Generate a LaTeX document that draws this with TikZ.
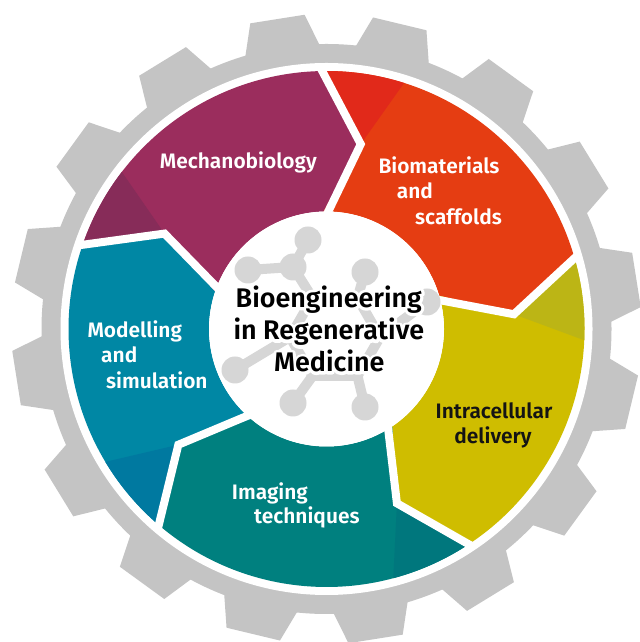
\documentclass[tikz,border=0pt]{standalone}
\usepackage{fontspec}
\setmainfont{Fira Sans}[BoldFont={Fira Sans SemiBold}]
\definecolor{gearGrey}{HTML}{C4C4C4}
\definecolor{magM}{HTML}{9B2D5D}
\definecolor{magD}{HTML}{872C59}
\definecolor{oraM}{HTML}{E53D12}
\definecolor{oraD}{HTML}{E1291A}
\definecolor{yelM}{HTML}{CFBD00}
\definecolor{yelD}{HTML}{BCB515}
\definecolor{tealM}{HTML}{00807F}
\definecolor{tealD}{HTML}{00777D}
\definecolor{blueM}{HTML}{0087A4}
\definecolor{blueD}{HTML}{0079A0}
\definecolor{molGrey}{HTML}{D6D6D6}
\definecolor{txtDark}{HTML}{141414}
\newcommand\halotext[1]{\makebox[0pt][l]{\special{pdf:literal direct 1 Tr 6 w 1 J 1 j 1 1 1 RG}#1\special{pdf:literal direct 0 Tr}}#1}
\begin{document}
\begin{tikzpicture}[x=1bp,y=1bp,
  seglabel/.style={font=\bfseries\fontsize{21}{25}\selectfont, text=white, inner sep=0pt},
  centerlabel/.style={font=\bfseries\fontsize{27}{32}\selectfont, text=black, inner sep=0pt, anchor=base},
  molbond/.style={draw=molGrey, line width=10bp, line cap=round, line join=round},
  molatom/.style={fill=molGrey}]
\useasboundingbox (0,0) rectangle (640,642);
\fill[white] (0,0) rectangle (640,642);
\begin{scope}[shift={(326.5,313)}]
  % gear
  \fill[gearGrey] (0,0) circle[radius=285];
  \foreach \c in {9,31.5,...,346.5}
    \fill[gearGrey] ({\c-8}:280) -- ({\c-5}:315) -- ({\c+5}:315) -- ({\c+8}:280) -- cycle;
  \fill[white] (0,0) circle[radius=266];
  % segments
  \foreach \s/\e/\col/\dk in {161.5/91.5/magM/magD, 91.5/16.5/oraM/oraD, 16.5/-56/yelM/yelD, -56/-130/tealM/tealD, 230/161.5/blueM/blueD}{
    \fill[\col] ({\s}:258) arc[start angle=\s, end angle=\e, radius=258] -- ({\e-12}:188) -- ({\e}:117.5)
      arc[start angle=\e, end angle=\s, radius=117.5] -- ({\s-12}:188) -- cycle;
    \fill[\dk] ({\s}:258) arc[start angle=\s, end angle={\s-19}, radius=258] -- ({\s-12}:188) -- cycle;
  }
  \foreach \b in {91.5,16.5,-56,-130,161.5}
    \draw[white, line width=8bp, line join=miter] ({\b}:263) -- ({\b-12}:188) -- ({\b}:108);
  \fill[white] (0,0) circle[radius=117.5];
\end{scope}
% molecule icon
\coordinate (h0) at (380,305);
\coordinate (h1) at (357.5,266);
\coordinate (h2) at (312.5,266);
\coordinate (h3) at (290,305);
\coordinate (h4) at (312.5,344);
\coordinate (h5) at (357.5,344);
\coordinate (j1) at (293,375);
\coordinate (c1) at (308,402);
\coordinate (c2) at (248,372);
\coordinate (c3) at (365,370);
\coordinate (c4) at (427,340);
\coordinate (c5) at (235,272);
\coordinate (c6) at (293,239);
\coordinate (c7) at (365,235);
\draw[molbond] (h0) -- (h1) -- (h2) -- (h3) -- (h4) -- (h5) -- cycle;
\draw[molbond] (h4) -- (j1) -- (c1);
\draw[molbond] (j1) -- (c2);
\draw[molbond] (h5) -- (c3);
\draw[molbond] (h0) -- (c4);
\draw[molbond] (h3) -- (c5);
\draw[molbond] (h2) -- (c6);
\draw[molbond] (h1) -- (c7);
\foreach \p in {j1,c1,c2,c3,c4,c5,c6,c7}
  \fill[molatom] (\p) circle[radius=13.5];
% labels
\node[seglabel, anchor=base] (mech) at (238.3,473.7) {Mechanobiology};
\node[seglabel, anchor=base west] (bio1) at (378.3,468.7) {Biomaterials};
\node[seglabel, anchor=base west] (bio2) at (396.7,443) {and};
\node[seglabel, anchor=base west] (bio3) at (415,417) {scaffolds};
\node[seglabel, anchor=base west] (mod1) at (87.3,304.7) {Modelling};
\node[seglabel, anchor=base west] (mod2) at (101,279.3) {and};
\node[seglabel, anchor=base west] (mod3) at (106,253) {simulation};
\node[seglabel, anchor=base west] (img1) at (231.7,142.7) {Imaging};
\node[seglabel, anchor=base west] (img2) at (254,118.7) {techniques};
\node[seglabel, anchor=base, text=txtDark] (intra1) at (494,223.7) {Intracellular};
\node[seglabel, anchor=base, text=txtDark] (intra2) at (493,198.7) {delivery};
\node[centerlabel] (cen1) at (328.8,334.7) {\halotext{Bioengineering}};
\node[centerlabel] (cen2) at (328.8,302) {\halotext{in Regenerative}};
\node[centerlabel] (cen3) at (329.3,270.3) {\halotext{Medicine}};
\end{tikzpicture}
\end{document}
